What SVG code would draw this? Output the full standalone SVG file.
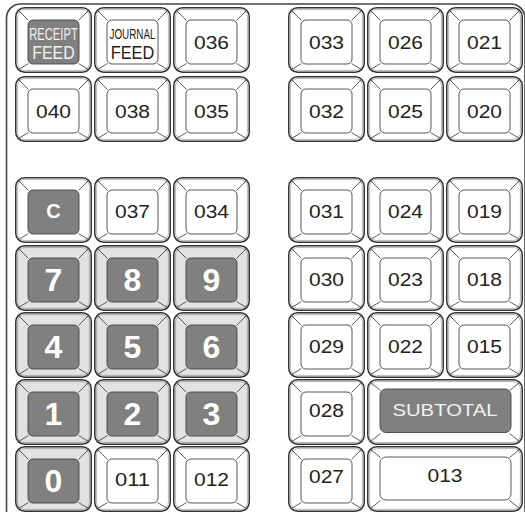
<svg xmlns="http://www.w3.org/2000/svg" xmlns:xlink="http://www.w3.org/1999/xlink" width="525" height="512" viewBox="0 0 525 512">
<style>
.iw{fill:#fff;stroke:#444;stroke-width:0.9}
.ig{fill:#808080;stroke:#444;stroke-width:0.9}
text{font-family:"Liberation Sans",Arial,sans-serif;text-anchor:middle}
.n{font-size:18.5px;fill:#222}
.b{font-size:32px;font-weight:bold;fill:#fff}
.c{font-size:20px;font-weight:bold;fill:#fff}
.s{font-size:17px;fill:#f2f2f2}
</style>
<defs>
<g id="kw">
<rect x="0.75" y="0.75" width="75.5" height="64.5" rx="9" fill="#fff" stroke="#333" stroke-width="1.5"/>
<rect x="2.6" y="2.6" width="71.8" height="60.8" rx="7" fill="none" stroke="#888" stroke-width="0.6"/>
<path d="M3.5,3.5 L13.5,13.5 M73.5,3.5 L63.5,13.5 M3.5,62.5 L13.5,56.5 M73.5,62.5 L63.5,56.5" stroke="#333" stroke-width="0.8" fill="none"/>
</g>
<g id="kg">
<rect x="0.75" y="0.75" width="75.5" height="64.5" rx="9" fill="#e2e2e2" stroke="#333" stroke-width="1.5"/>
<rect x="2.6" y="2.6" width="71.8" height="60.8" rx="7" fill="none" stroke="#888" stroke-width="0.6"/>
<path d="M3.5,3.5 L13.5,13.5 M73.5,3.5 L63.5,13.5 M3.5,62.5 L13.5,56.5 M73.5,62.5 L63.5,56.5" stroke="#333" stroke-width="0.8" fill="none"/>
</g>
<g id="kl">
<rect x="0.75" y="0.75" width="154.5" height="64.5" rx="9" fill="#fff" stroke="#333" stroke-width="1.5"/>
<rect x="2.6" y="2.6" width="150.8" height="60.8" rx="7" fill="none" stroke="#888" stroke-width="0.6"/>
<path d="M3.5,3.5 L13.5,11.5 M152.5,3.5 L142.5,11.5 M3.5,62.5 L13.5,54.5 M152.5,62.5 L142.5,54.5" stroke="#333" stroke-width="0.8" fill="none"/>
</g>
</defs>
<path id="frame" d="M6.5,512 V18 A14,14 0 0 1 20.5,4 H511 A14,14 0 0 1 525,18 V512" fill="none" stroke="#444" stroke-width="1.6"/>
<g id="connectors"/>

<g id="k-receipt" transform="translate(15,7)"><use xlink:href="#kw"/><rect class="ig" x="13" y="13" width="51" height="44" rx="5"/>
<text x="38.5" y="33.3" style="font-size:16.3px;fill:#f2f2f2" textLength="48.5" lengthAdjust="spacingAndGlyphs">RECEIPT</text>
<text x="38.5" y="51.7" style="font-size:18.6px;fill:#f2f2f2" textLength="42.5" lengthAdjust="spacingAndGlyphs">FEED</text></g>
<g id="k-journal" transform="translate(94,7)"><use xlink:href="#kw"/><rect class="iw" x="13" y="13" width="51" height="44" rx="5"/>
<text x="38.5" y="31.7" style="font-size:14px;fill:#222" textLength="46" lengthAdjust="spacingAndGlyphs">JOURNAL</text>
<text x="38.5" y="51.7" style="font-size:18.6px;fill:#222" textLength="43.5" lengthAdjust="spacingAndGlyphs">FEED</text></g>
<g id="k036" transform="translate(173,7)"><use xlink:href="#kw"/><rect class="iw" x="13" y="13" width="51" height="44" rx="5"/><text class="n" x="38.5" y="42" textLength="35" lengthAdjust="spacingAndGlyphs">036</text></g>
<g id="k040" transform="translate(15,76)"><use xlink:href="#kw"/><rect class="iw" x="13" y="13" width="51" height="44" rx="5"/><text class="n" x="38.5" y="42" textLength="35" lengthAdjust="spacingAndGlyphs">040</text></g>
<g id="k038" transform="translate(94,76)"><use xlink:href="#kw"/><rect class="iw" x="13" y="13" width="51" height="44" rx="5"/><text class="n" x="38.5" y="42" textLength="35" lengthAdjust="spacingAndGlyphs">038</text></g>
<g id="k035" transform="translate(173,76)"><use xlink:href="#kw"/><rect class="iw" x="13" y="13" width="51" height="44" rx="5"/><text class="n" x="38.5" y="42" textLength="35" lengthAdjust="spacingAndGlyphs">035</text></g>

<g id="k033" transform="translate(288,7)"><use xlink:href="#kw"/><rect class="iw" x="13" y="13" width="51" height="44" rx="5"/><text class="n" x="38.5" y="42" textLength="35" lengthAdjust="spacingAndGlyphs">033</text></g>
<g id="k026" transform="translate(367,7)"><use xlink:href="#kw"/><rect class="iw" x="13" y="13" width="51" height="44" rx="5"/><text class="n" x="38.5" y="42" textLength="35" lengthAdjust="spacingAndGlyphs">026</text></g>
<g id="k021" transform="translate(446,7)"><use xlink:href="#kw"/><rect class="iw" x="13" y="13" width="51" height="44" rx="5"/><text class="n" x="38.5" y="42" textLength="35" lengthAdjust="spacingAndGlyphs">021</text></g>
<g id="k032" transform="translate(288,76)"><use xlink:href="#kw"/><rect class="iw" x="13" y="13" width="51" height="44" rx="5"/><text class="n" x="38.5" y="42" textLength="35" lengthAdjust="spacingAndGlyphs">032</text></g>
<g id="k025" transform="translate(367,76)"><use xlink:href="#kw"/><rect class="iw" x="13" y="13" width="51" height="44" rx="5"/><text class="n" x="38.5" y="42" textLength="35" lengthAdjust="spacingAndGlyphs">025</text></g>
<g id="k020" transform="translate(446,76)"><use xlink:href="#kw"/><rect class="iw" x="13" y="13" width="51" height="44" rx="5"/><text class="n" x="38.5" y="42" textLength="35" lengthAdjust="spacingAndGlyphs">020</text></g>

<g id="kC" transform="translate(15,177)"><use xlink:href="#kw"/><rect class="ig" x="13" y="13" width="51" height="44" rx="5"/><text class="c" x="38.5" y="41">C</text></g>
<g id="k037" transform="translate(94,177)"><use xlink:href="#kw"/><rect class="iw" x="13" y="13" width="51" height="44" rx="5"/><text class="n" x="38.5" y="41" textLength="35" lengthAdjust="spacingAndGlyphs">037</text></g>
<g id="k034" transform="translate(173,177)"><use xlink:href="#kw"/><rect class="iw" x="13" y="13" width="51" height="44" rx="5"/><text class="n" x="38.5" y="41" textLength="35" lengthAdjust="spacingAndGlyphs">034</text></g>

<g id="k7" transform="translate(15,245)"><use xlink:href="#kg"/><rect class="ig" x="13" y="13" width="51" height="44" rx="5"/><text class="b" x="38.5" y="46">7</text></g>
<g id="k8" transform="translate(94,245)"><use xlink:href="#kg"/><rect class="ig" x="13" y="13" width="51" height="44" rx="5"/><text class="b" x="38.5" y="46">8</text></g>
<g id="k9" transform="translate(173,245)"><use xlink:href="#kg"/><rect class="ig" x="13" y="13" width="51" height="44" rx="5"/><text class="b" x="38.5" y="46">9</text></g>
<g id="k4" transform="translate(15,312)"><use xlink:href="#kg"/><rect class="ig" x="13" y="13" width="51" height="44" rx="5"/><text class="b" x="38.5" y="46">4</text></g>
<g id="k5" transform="translate(94,312)"><use xlink:href="#kg"/><rect class="ig" x="13" y="13" width="51" height="44" rx="5"/><text class="b" x="38.5" y="46">5</text></g>
<g id="k6" transform="translate(173,312)"><use xlink:href="#kg"/><rect class="ig" x="13" y="13" width="51" height="44" rx="5"/><text class="b" x="38.5" y="46">6</text></g>
<g id="k1" transform="translate(15,379)"><use xlink:href="#kg"/><rect class="ig" x="13" y="13" width="51" height="44" rx="5"/><text class="b" x="38.5" y="46">1</text></g>
<g id="k2" transform="translate(94,379)"><use xlink:href="#kg"/><rect class="ig" x="13" y="13" width="51" height="44" rx="5"/><text class="b" x="38.5" y="46">2</text></g>
<g id="k3" transform="translate(173,379)"><use xlink:href="#kg"/><rect class="ig" x="13" y="13" width="51" height="44" rx="5"/><text class="b" x="38.5" y="46">3</text></g>
<g id="k0" transform="translate(15,446)"><use xlink:href="#kg"/><rect class="ig" x="13" y="13" width="51" height="44" rx="5"/><text class="b" x="38.5" y="46">0</text></g>
<g id="k011" transform="translate(94,446)"><use xlink:href="#kw"/><rect class="iw" x="13" y="13" width="51" height="44" rx="5"/><text class="n" x="38.5" y="40" textLength="35" lengthAdjust="spacingAndGlyphs">011</text></g>
<g id="k012" transform="translate(173,446)"><use xlink:href="#kw"/><rect class="iw" x="13" y="13" width="51" height="44" rx="5"/><text class="n" x="38.5" y="40" textLength="35" lengthAdjust="spacingAndGlyphs">012</text></g>

<g id="k031" transform="translate(288,177)"><use xlink:href="#kw"/><rect class="iw" x="13" y="13" width="51" height="44" rx="5"/><text class="n" x="38.5" y="41" textLength="35" lengthAdjust="spacingAndGlyphs">031</text></g>
<g id="k024" transform="translate(367,177)"><use xlink:href="#kw"/><rect class="iw" x="13" y="13" width="51" height="44" rx="5"/><text class="n" x="38.5" y="41" textLength="35" lengthAdjust="spacingAndGlyphs">024</text></g>
<g id="k019" transform="translate(446,177)"><use xlink:href="#kw"/><rect class="iw" x="13" y="13" width="51" height="44" rx="5"/><text class="n" x="38.5" y="41" textLength="35" lengthAdjust="spacingAndGlyphs">019</text></g>
<g id="k030" transform="translate(288,245)"><use xlink:href="#kw"/><rect class="iw" x="13" y="13" width="51" height="44" rx="5"/><text class="n" x="38.5" y="41" textLength="35" lengthAdjust="spacingAndGlyphs">030</text></g>
<g id="k023" transform="translate(367,245)"><use xlink:href="#kw"/><rect class="iw" x="13" y="13" width="51" height="44" rx="5"/><text class="n" x="38.5" y="41" textLength="35" lengthAdjust="spacingAndGlyphs">023</text></g>
<g id="k018" transform="translate(446,245)"><use xlink:href="#kw"/><rect class="iw" x="13" y="13" width="51" height="44" rx="5"/><text class="n" x="38.5" y="41" textLength="35" lengthAdjust="spacingAndGlyphs">018</text></g>
<g id="k029" transform="translate(288,312)"><use xlink:href="#kw"/><rect class="iw" x="13" y="13" width="51" height="44" rx="5"/><text class="n" x="38.5" y="41" textLength="35" lengthAdjust="spacingAndGlyphs">029</text></g>
<g id="k022" transform="translate(367,312)"><use xlink:href="#kw"/><rect class="iw" x="13" y="13" width="51" height="44" rx="5"/><text class="n" x="38.5" y="41" textLength="35" lengthAdjust="spacingAndGlyphs">022</text></g>
<g id="k015" transform="translate(446,312)"><use xlink:href="#kw"/><rect class="iw" x="13" y="13" width="51" height="44" rx="5"/><text class="n" x="38.5" y="41" textLength="35" lengthAdjust="spacingAndGlyphs">015</text></g>
<g id="k028" transform="translate(288,379)"><use xlink:href="#kw"/><rect class="iw" x="13" y="13" width="51" height="44" rx="5"/><text class="n" x="38.5" y="38" textLength="35" lengthAdjust="spacingAndGlyphs">028</text></g>
<g id="k-subtotal" transform="translate(367,379)"><use xlink:href="#kl"/><rect class="ig" x="13" y="10" width="131" height="43.5" rx="6"/><text class="s" x="78" y="37.3" textLength="105" lengthAdjust="spacingAndGlyphs">SUBTOTAL</text></g>
<g id="k027" transform="translate(288,446)"><use xlink:href="#kw"/><rect class="iw" x="13" y="13" width="51" height="44" rx="5"/><text class="n" x="38.5" y="37" textLength="35" lengthAdjust="spacingAndGlyphs">027</text></g>
<g id="k013" transform="translate(367,446)"><use xlink:href="#kl"/><rect class="iw" x="13" y="11" width="131" height="43" rx="6"/><text class="n" x="78" y="36" textLength="35" lengthAdjust="spacingAndGlyphs">013</text></g>
</svg>
